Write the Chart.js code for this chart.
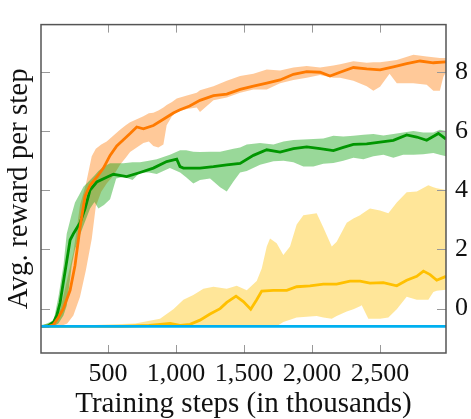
<!DOCTYPE html>
<html>
<head>
<meta charset="utf-8">
<script src="https://cdn.jsdelivr.net/npm/chart.js@4.4.1/dist/chart.umd.min.js"></script>
<style>
  html, body { margin: 0; padding: 0; background: #fff; }
  #wrap { width: 471px; height: 419px; position: relative; }
  #probe { position: absolute; left: 0; top: 0; font-family: 'Liberation Serif'; font-size: 10px; color: #fff; }
</style>
</head>
<body>
<div id="wrap"><span id="probe">Ag 0123</span><canvas id="rewardChart" width="471" height="419" style="position:absolute;left:0;top:0"></canvas></div>
<script>
// training steps (thousands) and average reward per step

var xTicks = [500, 1000, 1500, 2000, 2500];
var yTicks = [0, 2, 4, 6, 8];

// orange run
var orangeX    = [0, 60, 98, 135, 171, 221, 257, 294, 331, 368, 417, 466, 515, 564, 613, 662, 711, 760, 833, 907, 980, 1029, 1100, 1176, 1275, 1373, 1471, 1569, 1667, 1765, 1863, 1961, 2059, 2132, 2206, 2304, 2402, 2500, 2598, 2696, 2794, 2892, 2985];
var orangeMean = [-0.6, -0.6, -0.55, -0.3, 0, 0.62, 1.46, 2.74, 3.8, 4.17, 4.44, 4.75, 5.18, 5.5, 5.71, 5.92, 6.14, 6.08, 6.19, 6.4, 6.61, 6.72, 6.85, 7.04, 7.2, 7.25, 7.41, 7.52, 7.62, 7.73, 7.92, 8.01, 7.99, 7.86, 7.99, 8.15, 8.1, 8.07, 8.17, 8.28, 8.37, 8.31, 8.34];
var orangeBandX = [0, 100, 150, 200, 245, 294, 337, 380, 410, 450, 490, 540, 588, 630, 662, 711, 760, 800, 833, 870, 907, 931, 970, 1005, 1080, 1152, 1176, 1275, 1373, 1471, 1569, 1667, 1765, 1863, 1961, 2059, 2157, 2206, 2304, 2402, 2451, 2500, 2570, 2623, 2745, 2843, 2892, 2940, 2965, 2985];
var orangeUpper = [-0.6, -0.45, 0, 1.0, 1.9, 3.5, 4.2, 5.15, 5.4, 5.55, 5.65, 5.85, 6.05, 6.2, 6.3, 6.4, 6.5, 6.6, 6.62, 6.7, 6.8, 6.88, 6.98, 7.1, 7.2, 7.3, 7.38, 7.52, 7.7, 7.86, 7.94, 8.08, 8.05, 8.15, 8.2, 8.15, 8.22, 8.26, 8.36, 8.31, 8.33, 8.33, 8.37, 8.4, 8.58, 8.52, 8.5, 8.47, 8.47, 8.47];
var orangeLower = [-0.6, -0.6, -0.6, -0.5, -0.23, 0.4, 1.3, 2.35, 3.45, 3.95, 4.23, 4.5, 4.86, 5.1, 5.29, 5.45, 5.6, 5.65, 5.5, 5.45, 5.55, 6.2, 6.5, 6.65, 6.75, 6.8, 6.65, 7.04, 7.14, 7.3, 7.41, 7.41, 7.62, 7.73, 7.8, 7.9, 7.8, 7.8, 7.7, 7.52, 7.36, 7.5, 7.94, 7.62, 7.62, 7.57, 7.36, 7.36, 7.83, 8.0];

// green run
var greenX    = [0, 60, 100, 123, 147, 184, 221, 245, 294, 331, 368, 417, 490, 539, 637, 735, 833, 931, 1005, 1029, 1054, 1103, 1176, 1275, 1373, 1471, 1569, 1667, 1765, 1863, 1961, 2059, 2157, 2230, 2304, 2402, 2500, 2598, 2696, 2770, 2843, 2929, 2985];
var greenMean = [-0.6, -0.58, -0.45, -0.23, 0.19, 1.25, 2.32, 2.53, 2.9, 3.38, 4.01, 4.28, 4.44, 4.54, 4.46, 4.6, 4.75, 4.97, 5.05, 4.8, 4.75, 4.75, 4.75, 4.8, 4.86, 4.91, 5.18, 5.37, 5.29, 5.41, 5.47, 5.41, 5.34, 5.45, 5.55, 5.57, 5.63, 5.69, 5.87, 5.8, 5.69, 5.92, 5.73];
var greenBandX = [0, 100, 135, 172, 196, 233, 257, 294, 319, 368, 400, 429, 470, 515, 560, 613, 680, 735, 800, 858, 955, 1030, 1074, 1127, 1176, 1250, 1324, 1373, 1422, 1471, 1520, 1618, 1716, 1790, 1863, 1936, 2010, 2083, 2157, 2230, 2304, 2378, 2451, 2525, 2598, 2670, 2745, 2818, 2892, 2940, 2985];
var greenUpper = [-0.6, -0.4, 0.4, 1.46, 2.53, 3.2, 3.59, 3.9, 4.12, 4.35, 4.5, 4.65, 4.8, 4.91, 4.91, 4.91, 4.95, 4.95, 5.0, 5.05, 5.2, 5.35, 5.35, 5.3, 5.29, 5.3, 5.3, 5.35, 5.4, 5.45, 5.55, 5.6, 5.55, 5.65, 5.7, 5.72, 5.73, 5.75, 5.84, 5.82, 5.84, 5.88, 5.9, 5.85, 5.9, 5.95, 6.0, 5.95, 5.95, 6.05, 6.0];
var greenLower = [-0.6, -0.6, -0.5, -0.23, 0.1, 1.46, 2.0, 2.5, 2.8, 3.38, 3.6, 3.38, 3.5, 3.7, 4.4, 4.46, 4.35, 4.6, 4.6, 4.55, 4.75, 4.6, 4.44, 4.23, 4.35, 4.4, 4.1, 3.96, 4.3, 4.6, 4.65, 4.86, 4.98, 5.0, 4.95, 4.8, 4.8, 4.9, 4.92, 5.0, 5.1, 5.05, 5.15, 5.2, 5.1, 5.2, 5.2, 5.22, 5.26, 5.2, 5.15];

// yellow run
var yellowX    = [0, 600, 800, 882, 956, 1029, 1103, 1176, 1250, 1324, 1373, 1441, 1495, 1549, 1593, 1630, 1716, 1814, 1887, 1985, 2083, 2181, 2279, 2353, 2426, 2524, 2623, 2696, 2770, 2819, 2868, 2917, 2985];
var yellowMean = [-0.6, -0.6, -0.57, -0.53, -0.5, -0.57, -0.53, -0.39, -0.18, 0, 0.21, 0.42, 0.24, -0.02, 0.3, 0.59, 0.62, 0.62, 0.74, 0.77, 0.83, 0.83, 0.93, 0.93, 0.86, 0.88, 0.77, 0.96, 1.09, 1.27, 1.15, 0.96, 1.09];
var yellowBandX = [0, 400, 700, 882, 980, 1054, 1127, 1201, 1275, 1373, 1446, 1520, 1593, 1630, 1667, 1691, 1740, 1789, 1838, 1887, 1936, 2034, 2083, 2145, 2181, 2255, 2304, 2353, 2365, 2414, 2426, 2500, 2561, 2623, 2696, 2770, 2855, 2892, 2917, 2985];
var yellowUpper = [-0.6, -0.55, -0.5, -0.34, -0.02, 0.3, 0.46, 0.67, 0.74, 0.67, 0.77, 0.62, 0.93, 1.36, 2.1, 2.37, 2.21, 1.81, 2.1, 2.84, 3.16, 3.22, 2.74, 2.1, 2.26, 2.9, 3.05, 3.16, 3.2, 3.35, 3.38, 3.32, 3.22, 3.59, 3.93, 3.96, 4.17, 4.1, 4.07, 4.01];
var yellowLower = [-0.6, -0.6, -0.6, -0.6, -0.6, -0.6, -0.6, -0.6, -0.6, -0.6, -0.6, -0.6, -0.6, -0.6, -0.6, -0.6, -0.6, -0.45, -0.38, -0.3, -0.28, -0.25, -0.3, -0.34, -0.25, -0.1, -0.02, 0.08, 0.11, -0.34, -0.34, -0.34, -0.3, -0.02, 0.4, 0.3, 0.3, 0.56, 0.6, 0.64];

// blue run (flat)
var blueX    = [0, 2985];
var blueMean = [-0.6, -0.6];

function pts(xs, ys) {
    return xs.map(function (x, i) { return { x: x, y: ys[i] }; });
}

function line(data, color) {
    return { data: data, borderColor: color, borderWidth: 2.8, pointRadius: 0, tension: 0, fill: false };
}

function bandTop(data) {
    return { data: data, borderWidth: 0, pointRadius: 0, tension: 0, fill: false };
}

function bandBottom(data, color) {
    return { data: data, borderWidth: 0, pointRadius: 0, tension: 0, fill: '-1', backgroundColor: color };
}

var serif = "'Liberation Serif', 'DejaVu Serif', serif";
Chart.defaults.font.family = serif;

// frame and inward tick marks, like pgfplots
var framePlugin = {
    id: 'frame',
    afterDraw: function (chart) {
        var c = chart.ctx, a = chart.chartArea;
        var xs = chart.scales.x, ys = chart.scales.y;
        c.save();
        c.strokeStyle = '#999';
        c.lineWidth = 1;
        c.beginPath();
        xTicks.forEach(function (v) {
            var px = Math.round(xs.getPixelForValue(v)) + 0.5;
            c.moveTo(px, a.bottom); c.lineTo(px, a.bottom - 8);
            c.moveTo(px, a.top); c.lineTo(px, a.top + 8);
        });
        yTicks.forEach(function (v) {
            var py = Math.round(ys.getPixelForValue(v)) + 0.5;
            c.moveTo(a.left, py); c.lineTo(a.left + 9, py);
            c.moveTo(a.right, py); c.lineTo(a.right - 9, py);
        });
        c.stroke();
        c.strokeStyle = '#555';
        c.lineWidth = 1.5;
        c.strokeRect(a.left, a.top, a.right - a.left, a.bottom - a.top);
        c.restore();
    }
};

function draw() {
    var ctx = document.getElementById('rewardChart').getContext('2d');
    new Chart(ctx, {
        type: 'line',
        data: {
            datasets: [
                line(pts(blueX, blueMean), 'rgb(0,176,240)'),
                line(pts(orangeX, orangeMean), 'rgb(255,122,0)'),
                line(pts(greenX, greenMean), 'rgb(0,150,0)'),
                line(pts(yellowX, yellowMean), 'rgb(255,192,0)'),
                bandTop(pts(greenBandX, greenUpper)),
                bandBottom(pts(greenBandX, greenLower), 'rgba(0,157,0,0.4)'),
                bandTop(pts(orangeBandX, orangeUpper)),
                bandBottom(pts(orangeBandX, orangeLower), 'rgba(255,120,0,0.4)'),
                bandTop(pts(yellowBandX, yellowUpper)),
                bandBottom(pts(yellowBandX, yellowLower), 'rgba(255,192,0,0.4)')
            ]
        },
        options: {
            responsive: false,
            animation: false,
            layout: { padding: { top: 5, left: 0, right: 0, bottom: 0 } },
            plugins: {
                legend: { display: false },
                tooltip: { enabled: false }
            },
            scales: {
                x: {
                    type: 'linear',
                    position: 'bottom',
                    min: 7,
                    max: 2985,
                    afterBuildTicks: function (s) { s.ticks = xTicks.map(function (v) { return { value: v }; }); },
                    afterFit: function (s) { s.height = 66; },
                    grid: { display: false, drawTicks: false },
                    border: { display: false },
                    ticks: {
                        autoSkip: false,
                        maxRotation: 0,
                        padding: 6,
                        color: '#111',
                        font: { family: serif, size: 26 },
                        callback: function (v) { return v.toLocaleString('en-US'); }
                    },
                    title: {
                        display: true,
                        text: 'Training steps (in thousands)',
                        color: '#111',
                        padding: { top: 0, bottom: 0 },
                        font: { family: serif, size: 29, lineHeight: 1 }
                    }
                },
                y: {
                    type: 'linear',
                    position: 'right',
                    min: -1.5,
                    max: 9.6,
                    afterBuildTicks: function (s) { s.ticks = yTicks.map(function (v) { return { value: v }; }); },
                    afterFit: function (s) { s.width = 25; },
                    grid: { display: false, drawTicks: false },
                    border: { display: false },
                    ticks: {
                        padding: 9,
                        color: '#111',
                        font: { family: serif, size: 26 }
                    }
                },
                yLeft: {
                    type: 'linear',
                    position: 'left',
                    min: -1.5,
                    max: 9.6,
                    afterFit: function (s) { s.width = 41; },
                    grid: { display: false, drawTicks: false },
                    border: { display: false },
                    ticks: { display: false },
                    title: {
                        display: true,
                        text: 'Avg. reward per step',
                        color: '#111',
                        padding: { top: 5, bottom: 0 },
                        font: { family: serif, size: 29, lineHeight: 1 }
                    }
                }
            }
        },
        plugins: [framePlugin]
    });
}

if (document.fonts && document.fonts.load) {
    document.fonts.load("26px 'Liberation Serif'").then(draw, draw);
} else {
    draw();
}
</script>
</body>
</html>
